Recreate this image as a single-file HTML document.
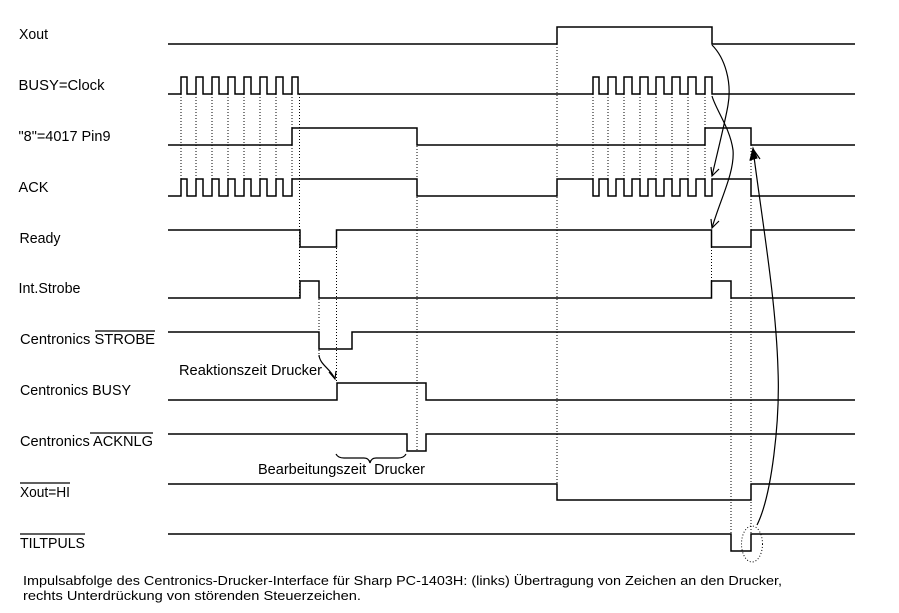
<!DOCTYPE html>
<html>
<head>
<meta charset="utf-8">
<style>
html,body{margin:0;padding:0;background:#fff;}
svg{display:block;}
text{font-family:"Liberation Sans",Arial,sans-serif;fill:#000;}
</style>
</head>
<body>
<svg width="899" height="613" viewBox="0 0 899 613" xmlns="http://www.w3.org/2000/svg">
<rect width="899" height="613" fill="#fff"/>

<!-- Labels -->
<g font-size="14.6">
<text x="19" y="39" textLength="29" lengthAdjust="spacingAndGlyphs">Xout</text>
<text x="18.5" y="90" textLength="86" lengthAdjust="spacingAndGlyphs">BUSY=Clock</text>
<text x="18.5" y="141" textLength="92" lengthAdjust="spacingAndGlyphs">"8"=4017 Pin9</text>
<text x="18.5" y="192" textLength="30" lengthAdjust="spacingAndGlyphs">ACK</text>
<text x="19.5" y="243" textLength="41" lengthAdjust="spacingAndGlyphs">Ready</text>
<text x="18.5" y="293" textLength="62" lengthAdjust="spacingAndGlyphs">Int.Strobe</text>
<text x="20" y="344" textLength="135" lengthAdjust="spacingAndGlyphs">Centronics STROBE</text>
<text x="20" y="395" textLength="111" lengthAdjust="spacingAndGlyphs">Centronics BUSY</text>
<text x="20" y="446" textLength="133" lengthAdjust="spacingAndGlyphs">Centronics ACKNLG</text>
<text x="20" y="497" textLength="50" lengthAdjust="spacingAndGlyphs">Xout=HI</text>
<text x="20" y="548" textLength="65" lengthAdjust="spacingAndGlyphs">TILTPULS</text>
<text x="179" y="375" textLength="143" lengthAdjust="spacingAndGlyphs">Reaktionszeit Drucker</text>
<text x="258" y="474" textLength="167" lengthAdjust="spacingAndGlyphs" xml:space="preserve">Bearbeitungszeit  Drucker</text>
</g>
<g font-size="13">
<text x="23" y="585" textLength="759" lengthAdjust="spacingAndGlyphs">Impulsabfolge des Centronics-Drucker-Interface für Sharp PC-1403H: (links) Übertragung von Zeichen an den Drucker,</text>
<text x="23" y="600" textLength="338" lengthAdjust="spacingAndGlyphs">rechts Unterdrückung von störenden Steuerzeichen.</text>
</g>

<!-- Overlines -->
<g stroke="#000" stroke-width="1.2" fill="none">
<line x1="95" y1="331" x2="155" y2="331"/>
<line x1="90" y1="433" x2="153" y2="433"/>
<line x1="20" y1="483" x2="70" y2="483"/>
<line x1="20" y1="534" x2="85" y2="534"/>
</g>

<!-- Dotted guide lines -->
<g stroke="#000" stroke-width="1" stroke-dasharray="1,2" fill="none">
<line x1="181" y1="94" x2="181" y2="196"/>
<line x1="196" y1="94" x2="196" y2="196"/>
<line x1="212" y1="94" x2="212" y2="196"/>
<line x1="228" y1="94" x2="228" y2="196"/>
<line x1="244" y1="94" x2="244" y2="196"/>
<line x1="260" y1="94" x2="260" y2="196"/>
<line x1="276" y1="94" x2="276" y2="196"/>
<line x1="292" y1="94" x2="292" y2="196"/>
<line x1="299.5" y1="94" x2="299.5" y2="298"/>
<line x1="319" y1="281" x2="319" y2="358"/>
<line x1="336.5" y1="230" x2="336.5" y2="383"/>
<line x1="417" y1="128" x2="417" y2="451"/>
<line x1="557" y1="44" x2="557" y2="500"/>
<line x1="593" y1="94" x2="593" y2="196"/>
<line x1="608" y1="94" x2="608" y2="196"/>
<line x1="624" y1="94" x2="624" y2="196"/>
<line x1="640" y1="94" x2="640" y2="196"/>
<line x1="656" y1="94" x2="656" y2="196"/>
<line x1="672" y1="94" x2="672" y2="196"/>
<line x1="688" y1="94" x2="688" y2="196"/>
<line x1="705" y1="94" x2="705" y2="196"/>
<line x1="711.5" y1="247" x2="711.5" y2="298"/>
<line x1="731" y1="298" x2="731" y2="551"/>
<line x1="751" y1="145" x2="751" y2="534"/>
<ellipse cx="752" cy="544" rx="10.5" ry="18"/>
</g>

<!-- Signal traces -->
<g stroke="#000" stroke-width="1.5" fill="none" stroke-linejoin="miter">
<path d="M168,44 H557 V27 H712 V44 H855"/>
<path d="M168,94 H181 V77 H187 V94 H196 V77 H203 V94 H212 V77 H219 V94 H228 V77 H235 V94 H244 V77 H251 V94 H260 V77 H267 V94 H276 V77 H283 V94 H292 V77 H298 V94 H593 V77 H599 V94 H608 V77 H616 V94 H624 V77 H632 V94 H640 V77 H648 V94 H656 V77 H664 V94 H672 V77 H680 V94 H688 V77 H696 V94 H705 V77 H712 V94 H855"/>
<path d="M168,145 H292 V128 H417 V145 H705 V128 H751 V145 H855"/>
<path d="M168,196 H181 V179 H187 V196 H196 V179 H203 V196 H212 V179 H219 V196 H228 V179 H235 V196 H244 V179 H251 V196 H260 V179 H267 V196 H276 V179 H283 V196 H292 V179 H417 V196 H557 V179 H593 V196 H599 V179 H608 V196 H616 V179 H624 V196 H632 V179 H640 V196 H648 V179 H656 V196 H664 V179 H672 V196 H680 V179 H688 V196 H696 V179 H705 V196 H712 V179 H751 V196 H855"/>
<path d="M168,230 H300 V247 H336.5 V230 H711.5 V247 H751 V230 H855"/>
<path d="M168,298 H300 V281 H319 V298 H711.5 V281 H731 V298 H855"/>
<path d="M168,332 H319 V349 H352 V332 H855"/>
<path d="M168,400 H337 V383 H426 V400 H855"/>
<path d="M168,434 H407 V451 H426 V434 H855"/>
<path d="M168,484 H557 V500 H751 V484 H855"/>
<path d="M168,534 H731 V551 H751 V534 H855"/>
</g>

<!-- Curved arrows -->
<g stroke="#000" stroke-width="1.2" fill="none">
<path d="M712,45 C725,58 732,82 728,105 C726,118 718,150 712,176"/>
<path d="M711,167 L712,176 L719,169"/>
<path d="M712,96 C716,110 730,128 733,150 C735,172 720,200 712,228"/>
<path d="M711,219 L712,228 L719,221"/>
<path d="M757,525 C772,495 780,420 778,370 C776,300 762,220 753,149"/>
<path d="M319,355 C320,365 330,368 335,379"/>
<path d="M329,372 L335,379 L336,371"/>
<path d="M336,454 Q338,458 344,458 L364,458 Q369,458 370,463 Q371,458 376,458 L398,458 Q404,458 406,454"/>
</g>
<path d="M753,148 L750,160 L757,158 Z" fill="#000" stroke="#000" stroke-width="1"/>
<path d="M753,149 L760,159" stroke="#000" stroke-width="1.2" fill="none"/>
</svg>
</body>
</html>
